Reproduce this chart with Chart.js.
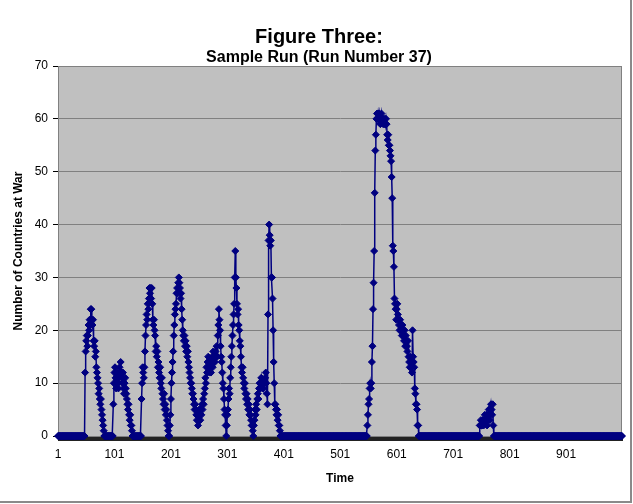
<!DOCTYPE html>
<html>
<head>
<meta charset="utf-8">
<script src="https://cdn.jsdelivr.net/npm/chart.js@4.4.1/dist/chart.umd.min.js"></script>
<style>
  html, body { margin: 0; padding: 0; background: #fff; }
  #wrap { width: 633px; height: 504px; }
</style>
</head>
<body>
<div id="wrap"><canvas id="runChart" width="633" height="504"></canvas></div>
<script>
// Sample run: number of countries at war per time step (1..1000)
const timeSteps = 1000;
const xTickLabels = ['1', '101', '201', '301', '401', '501', '601', '701', '801', '901'];
const yTicks = [0, 10, 20, 30, 40, 50, 60, 70];

// every step outside these bursts reads 0
const burstStarts = [49, 99, 149, 199, 549, 748];

const burstA = [12, 16, 18, 19, 17, 19, 21, 20, 22, 21, 24, 24, 22, 21, 22, 18, 17, 18, 15, 16,
  13, 12, 11, 10, 8, 9, 7, 6, 7, 5, 4, 3, 2, 1];
const burstB = [6, 10, 12, 13, 11, 9, 10, 12, 10, 9, 11, 13, 12, 14, 12, 11, 10, 12, 9, 8,
  10, 11, 9, 8, 7, 6, 5, 6, 4, 3, 4, 2, 2, 1, 0];
const burstC = [7, 10, 13, 12, 11, 13, 16, 19, 21, 23, 22, 25, 24, 26, 28,
  27, 28, 26, 28, 25,
  22, 21, 22, 20, 19, 16, 17, 15, 16, 13, 14, 12, 11, 13, 10, 9, 11, 8, 7, 6,
  8, 5, 6, 4, 5, 3, 2, 1, 0];
const burstD = [
  2, 4, 7, 10, 12, 14, 16, 19, 21, 23, 24, 25, 27, 28, 27, 29, 30, 29, 28, 26,
  27, 24, 22, 20, 19, 18, 19, 17, 18, 16, 17, 15, 16, 14, 13, 12, 11, 10, 10, 9,
  8, 8, 7, 6, 5, 6, 5, 4, 3, 4,
  2, 3, 5, 4, 3, 5, 4, 6, 5, 7, 6, 8, 9, 11, 10, 13, 12, 14, 15, 13,
  12, 14, 13, 12, 14, 15, 13, 16, 14, 15, 14, 16, 15, 17, 15, 19, 21, 24, 22, 20,
  17, 15, 14, 12, 10, 9, 7, 5, 4, 2, 0,
  2, 4, 5, 7, 9, 8, 11, 13, 15, 17, 19, 21, 23, 25, 30, 35, 30, 28, 25, 23,
  24, 21, 20, 18, 17, 15, 13, 12, 13, 11, 10, 9, 10, 8, 7, 8, 6, 7, 5, 6,
  4, 5, 4, 3, 2, 2, 1,
  0, 2, 3, 5, 4, 6, 5, 7, 8, 7, 9, 10, 9, 10, 11, 10, 9, 10, 9, 10,
  10, 11, 12, 10, 8, 6, 23, 37, 40, 38, 36, 37, 30, 30, 26, 20, 14, 10, 6, 6,
  5, 4, 5, 3, 4, 2, 2, 1, 0];
const burstE = [2, 4, 6, 7, 9, 10, 9, 10, 14, 17, 24, 29, 35, 46, 54, 57, 60, 61, 60,
  61, 60, 61, 60, 59, 60, 61, 60, 60, 59, 60, 59, 60, 59, 60, 59, 57, 56, 57, 55, 55, 54,
  53, 52, 49, 45, 36, 35, 32, 26, 25, 24, 22, 24, 25, 23, 22, 21, 20, 22, 21, 20,
  19, 21, 20, 19, 18, 20, 17, 19, 18, 17, 16, 18, 15, 14, 13, 15, 14, 13, 12, 20,
  15, 14, 13, 9, 8, 6, 6, 5, 2, 2];
const burstF = [2, 2, 3, 2, 2, 3, 3, 2, 3, 4, 3, 3, 4, 2, 3, 4, 5, 4, 3, 5, 6, 5, 4, 6, 2];

const bursts = [burstA, burstB, burstC, burstD, burstE, burstF];

const timeLabels = [];
const warCounts = [];
for (let t = 1; t <= timeSteps; t++) {
    timeLabels.push(String(t));
    warCounts.push(0);
}
bursts.forEach((b, k) => {
    b.forEach((v, i) => { warCounts[burstStarts[k] - 1 + i] = v; });
});

Chart.defaults.font.family = '"Liberation Sans", Arial, sans-serif';
Chart.defaults.color = '#000';

// grey plot area, plot border and outer chart frame (Excel look)
const excelFrame = {
    id: 'excelFrame',
    beforeDraw(chart) {
        const { ctx, chartArea: a } = chart;
        ctx.save();
        ctx.fillStyle = '#fff';
        ctx.fillRect(0, 0, chart.width, chart.height);
        ctx.fillStyle = '#c0c0c0';
        ctx.fillRect(a.left, a.top, a.right - a.left, a.bottom - a.top);
        ctx.restore();
    },
    beforeDatasetsDraw(chart) {
        const { ctx, chartArea: a } = chart;
        ctx.save();
        ctx.strokeStyle = '#808080';
        ctx.lineWidth = 1;
        ctx.strokeRect(a.left + 0.5, a.top + 0.5, a.right - a.left - 1, a.bottom - a.top);
        ctx.restore();
    },
    afterDraw(chart) {
        const { ctx } = chart;
        ctx.save();
        ctx.strokeStyle = '#8a8a8a';
        ctx.lineWidth = 2;
        ctx.beginPath();
        ctx.moveTo(631, 0);
        ctx.lineTo(631, 502);
        ctx.lineTo(0, 502);
        ctx.stroke();
        ctx.restore();
    }
};

new Chart(document.getElementById('runChart'), {
    type: 'line',
    data: {
        labels: timeLabels,
        datasets: [{
            label: 'Countries at War',
            data: warCounts,
            clip: false,
            borderColor: '#000080',
            backgroundColor: '#000080',
            borderWidth: 1.5,
            pointStyle: 'rectRot',
            pointRadius: 3.5,
            pointBorderWidth: 1,
            pointBackgroundColor: '#000080',
            pointBorderColor: '#000080',
            tension: 0,
            fill: false
        }]
    },
    options: {
        responsive: false,
        animation: false,
        events: [],
        layout: { padding: { left: 16, right: 11, top: 0, bottom: 0 } },
        plugins: {
            legend: { display: false },
            tooltip: { enabled: false },
            title: {
                display: true,
                text: 'Figure Three:',
                font: { size: 20, weight: 'bold', lineHeight: 1 },
                padding: { top: 27, bottom: 0 }
            },
            subtitle: {
                display: true,
                text: 'Sample Run (Run Number 37)',
                font: { size: 16, weight: 'bold', lineHeight: 1 },
                color: '#000',
                padding: { top: 3, bottom: 0 }
            }
        },
        scales: {
            x: {
                type: 'category',
                afterFit(s) { s.height = 68; },
                border: { display: true, color: '#404040', width: 1 },
                grid: {
                    display: true,
                    drawOnChartArea: false,
                    drawTicks: true,
                    tickLength: 5,
                    tickColor: '#222',
                    lineWidth: 1
                },
                ticks: {
                    autoSkip: false,
                    maxRotation: 0,
                    minRotation: 0,
                    padding: 6,
                    font: { size: 12 },
                    callback: function(value, index) {
                        const lab = timeLabels[index];
                        return xTickLabels.includes(lab) ? lab : '';
                    }
                },
                title: {
                    display: true,
                    text: 'Time',
                    font: { size: 12, weight: 'bold' },
                    padding: { top: 0, bottom: 18 }
                }
            },
            y: {
                min: yTicks[0],
                max: yTicks[yTicks.length - 1],
                afterFit(s) { s.width = 42; },
                border: { display: true, color: '#404040', width: 1 },
                grid: {
                    color: '#808080',
                    lineWidth: 1,
                    tickLength: 5,
                    tickColor: '#000'
                },
                ticks: {
                    stepSize: 10,
                    padding: 5,
                    font: { size: 12 }
                },
                title: {
                    display: true,
                    text: 'Number of Countries at War',
                    font: { size: 12, weight: 'bold' },
                    padding: { top: -5, bottom: 0 }
                }
            }
        }
    },
    plugins: [excelFrame]
});
</script>
</body>
</html>
